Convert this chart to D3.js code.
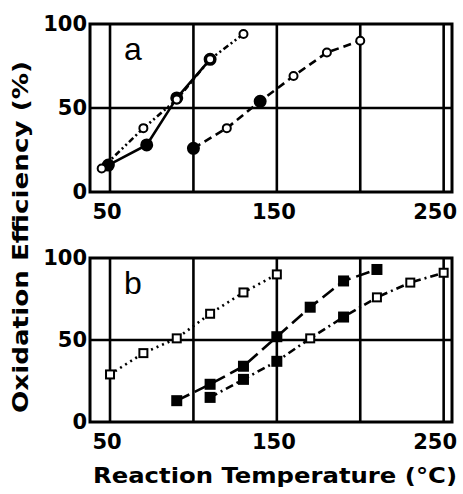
<!DOCTYPE html>
<html><head><meta charset="utf-8">
<script src="https://cdn.jsdelivr.net/npm/d3@7"></script>
<style>html,body{margin:0;padding:0;background:#fff}</style>
</head><body>
<svg id="c" width="463" height="494"></svg>
<script>
// ---- data ----
const xTicks = [50, 150, 250];
const xGrid = [50, 100, 150, 200, 250];
const yTicks = [0, 50, 100];

// panel a
const a1X = [45, 70, 90, 110, 130];
const a1Y = [14, 38, 55, 79, 94];
const a1M = ["o", "o", "o", "o", "o"];
const a2X = [49, 72, 90, 110];
const a2Y = [16, 28, 56, 79];
const a2M = ["f", "f", "f", "f"];
const a3X = [100, 120, 140, 160, 180, 200];
const a3Y = [26, 38, 54, 69, 83, 90];
const a3M = ["f", "o", "f", "o", "o", "o"];

// panel b
const b1X = [50, 70, 90, 110, 130, 150];
const b1Y = [29, 42, 51, 66, 79, 90];
const b1M = ["o", "o", "o", "o", "o", "o"];
const b2X = [90, 110, 130, 150, 170, 190, 210];
const b2Y = [13, 23, 34, 52, 70, 86, 93];
const b2M = ["f", "f", "f", "f", "f", "f", "f"];
const b3X = [110, 130, 150, 170, 190, 210, 230, 250];
const b3Y = [15, 26, 37, 51, 64, 76, 85, 91];
const b3M = ["f", "f", "f", "o", "f", "o", "o", "o"];

const panels = [
  {label: "a", top: 24, bottom: 192, shape: "circle",
   series: [
     {x: a1X, y: a1Y, m: a1M, dash: "6,3,2,3,2,3"},
     {x: a2X, y: a2Y, m: a2M, dash: null},
     {x: a3X, y: a3Y, m: a3M, dash: "8,5"}
   ], order: [1, 0, 2]},
  {label: "b", top: 258, bottom: 422, shape: "square",
   series: [
     {x: b1X, y: b1Y, m: b1M, dash: "2,4"},
     {x: b2X, y: b2Y, m: b2M, dash: "14,6"},
     {x: b3X, y: b3Y, m: b3M, dash: "8,4,2,4"}
   ], order: [0, 1, 2]}
];

const svg = d3.select("#c");
const font = "'DejaVu Sans', 'Liberation Sans', Arial, sans-serif";
const x = d3.scaleLinear().domain([38, 255]).range([90, 452]);

panels.forEach(p => {
  const y = d3.scaleLinear().domain([0, 100]).range([p.bottom, p.top]);
  const g = svg.append("g");
  // grid
  g.selectAll(".vg").data(xGrid).enter().append("line")
    .attr("x1", d => x(d)).attr("x2", d => x(d))
    .attr("y1", y(0)).attr("y2", y(100))
    .attr("stroke", "#000").attr("stroke-width", 2.6);
  g.append("line").attr("x1", x(38)).attr("x2", x(255))
    .attr("y1", y(50)).attr("y2", y(50))
    .attr("stroke", "#000").attr("stroke-width", 2.6);
  // frame
  g.append("rect").attr("x", x(38)).attr("y", y(100))
    .attr("width", x(255) - x(38)).attr("height", y(0) - y(100))
    .attr("fill", "none").attr("stroke", "#000").attr("stroke-width", 3);

  // y tick labels
  g.selectAll(".yt").data(yTicks).enter().append("text")
    .attr("x", 87).attr("y", d => y(d) + 7)
    .attr("text-anchor", "end").attr("font-family", font)
    .attr("font-weight", "bold").attr("font-size", 21)
    .text(d => d);
  // x tick labels
  g.selectAll(".xt").data(xTicks).enter().append("text")
    .attr("x", (d, i) => i === xTicks.length - 1 ? x(255) + 5 : x(d) - 3)
    .attr("y", y(0) + 27)
    .attr("text-anchor", (d, i) => i === xTicks.length - 1 ? "end" : "middle")
    .attr("font-family", font)
    .attr("font-weight", "bold").attr("font-size", 21)
    .text(d => d);

  // panel letter
  g.append("text").attr("x", 124).attr("y", y(100) + 36)
    .attr("font-family", "'Liberation Sans', Arial, sans-serif").attr("font-size", 32)
    .text(p.label);

  // series
  p.order.forEach(si => {
    const s = p.series[si];
    const pts = s.x.map((v, i) => ({x: v, y: s.y[i], m: s.m[i]}));
    const line = d3.line().x(d => x(d.x)).y(d => y(d.y));
    g.append("path").datum(pts).attr("d", line)
      .attr("fill", "none").attr("stroke", "#000")
      .attr("stroke-width", 2.6)
      .attr("stroke-dasharray", s.dash);
    if (p.shape === "circle") {
      g.selectAll(null).data(pts).enter().append("circle")
        .attr("cx", d => x(d.x)).attr("cy", d => y(d.y))
        .attr("r", d => d.m === "f" ? 5.5 : 4)
        .attr("fill", d => d.m === "f" ? "#000" : "#fff")
        .attr("stroke", "#000").attr("stroke-width", 2);
    } else {
      g.selectAll(null).data(pts).enter().append("rect")
        .attr("x", d => x(d.x) - (d.m === "f" ? 4.5 : 4))
        .attr("y", d => y(d.y) - (d.m === "f" ? 4.5 : 4))
        .attr("width", d => d.m === "f" ? 9 : 8)
        .attr("height", d => d.m === "f" ? 9 : 8)
        .attr("fill", d => d.m === "f" ? "#000" : "#fff")
        .attr("stroke", "#000").attr("stroke-width", 2);
    }
  });
});

// axis titles
svg.append("text")
  .attr("transform", "translate(28,237) rotate(-90)")
  .attr("text-anchor", "middle").attr("font-family", font)
  .attr("font-weight", "bold").attr("font-size", 22)
  .attr("textLength", 352).attr("lengthAdjust", "spacingAndGlyphs")
  .text("Oxidation Efficiency (%)");
svg.append("text")
  .attr("x", 275).attr("y", 483)
  .attr("text-anchor", "middle").attr("font-family", font)
  .attr("font-weight", "bold").attr("font-size", 22)
  .attr("textLength", 364).attr("lengthAdjust", "spacingAndGlyphs")
  .text("Reaction Temperature (°C)");
</script>
</body></html>
